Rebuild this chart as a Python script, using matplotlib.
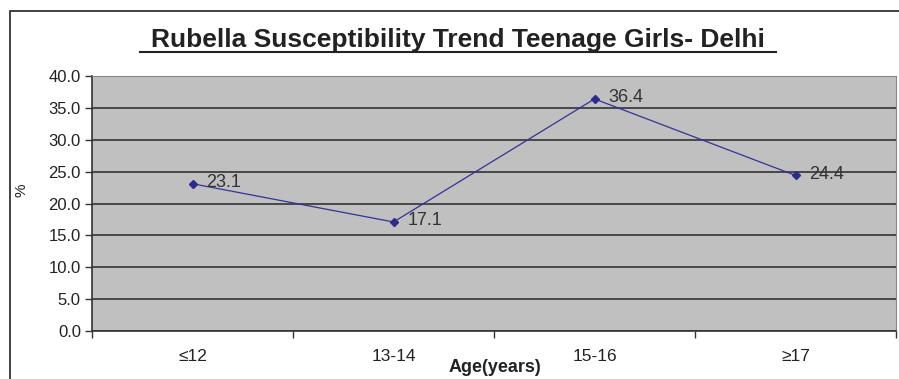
import matplotlib
matplotlib.use("Agg")
import matplotlib.pyplot as plt
from matplotlib.patches import Rectangle
from matplotlib.ticker import FixedLocator, NullFormatter

# data
ages = ["≤12", "13-14", "15-16", "≥17"]
pct = [23.1, 17.1, 36.4, 24.4]
yticks = [0, 5, 10, 15, 20, 25, 30, 35, 40]

W, H = 899, 379
fig = plt.figure(figsize=(W / 100, H / 100), dpi=100)
plt.rcParams['font.family'] = ['Liberation Sans', 'DejaVu Sans']

# outer chart frame
fig.patches.append(Rectangle((10 / W, -0.1), 1.0, (H - 11) / H + 0.1,
                             transform=fig.transFigure, fill=False,
                             edgecolor='#222222', linewidth=1.2))

ax = fig.add_axes([92 / W, 1 - 331 / H, (896 - 92) / W, (331 - 76) / H])
ax.set_facecolor('#c0c0c0')

x = list(range(len(ages)))
ax.plot(x, pct, color='#333399', linewidth=0.9, marker='D', markersize=4.5,
        markerfacecolor='#2b2b8c', markeredgecolor='#2b2b8c')
for xi, v in zip(x, pct):
    ax.annotate(f"{v:.1f}", (xi, v), xytext=(10, 1), textcoords='offset points',
                ha='left', va='center', fontsize=13, color='#333333')

ax.set_xlim(-0.5, len(ages) - 0.5)
ax.set_ylim(0, 40)
ax.set_yticks(yticks)
ax.set_yticklabels([f"{t:.1f}" for t in yticks], fontsize=12, color='#222222')
ax.yaxis.grid(True, color='#333333', linewidth=1.2)
ax.set_axisbelow(True)

ax.xaxis.set_major_locator(FixedLocator(x))
ax.set_xticklabels(ages, fontsize=12.5, color='#222222')
ax.xaxis.set_minor_locator(FixedLocator([i - 0.5 for i in range(len(ages) + 1)]))
ax.xaxis.set_minor_formatter(NullFormatter())
ax.tick_params(axis='x', which='major', length=0, pad=13)
ax.tick_params(axis='x', which='minor', length=5, width=1, color='#333333')
ax.tick_params(axis='y', length=5, width=1, color='#333333', pad=3)

for side in ['top', 'right']:
    ax.spines[side].set_color('#888888')
    ax.spines[side].set_linewidth(0.8)
for side in ['left', 'bottom']:
    ax.spines[side].set_color('#333333')
    ax.spines[side].set_linewidth(1.2)

fig.text(458 / W, 1 - 40 / H, "Rubella Susceptibility Trend Teenage Girls- Delhi",
         ha='center', va='center', fontsize=19, fontweight='bold',
         color='#222222')
# underline for the title
fig.add_artist(plt.Line2D([140 / W, 776 / W], [1 - 52 / H, 1 - 52 / H],
                          transform=fig.transFigure, color='#222222', linewidth=1.5))

fig.text(495 / W, 1 - 368 / H, "Age(years)", ha='center', va='center',
         fontsize=13, fontweight='bold', color='#222222')
fig.text(22 / W, 1 - 190 / H, "%", ha='center', va='center', rotation=90,
         fontsize=11, color='#222222')

fig.savefig("out.png", dpi=100)
